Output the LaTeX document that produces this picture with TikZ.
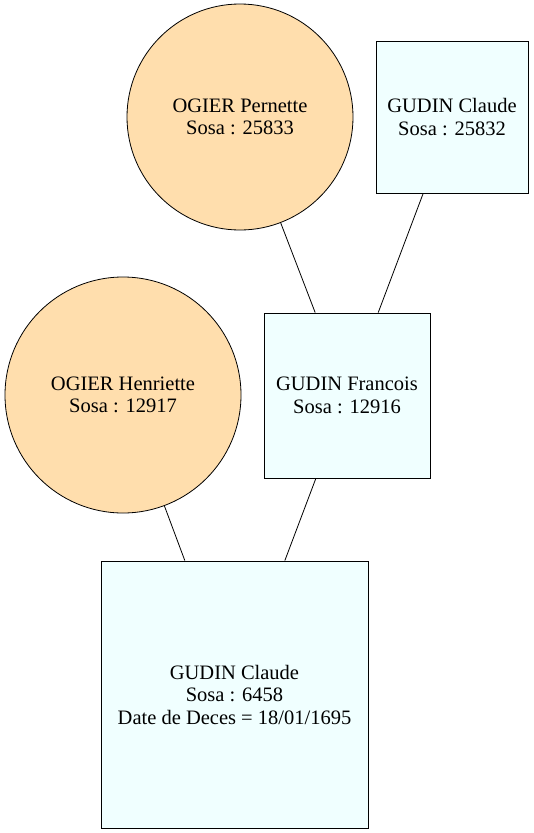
\documentclass[tikz,border=0pt]{standalone}
\usepackage{fontspec}
\setmainfont{Liberation Serif}
\definecolor{fem}{HTML}{FFDEAD}
\definecolor{masc}{HTML}{F0FFFF}
\tikzset{
  person/.style={draw=black, line width=0.8pt, inner sep=0pt, align=center,
    font=\fontsize{20.5}{22.5}\selectfont},
  femme/.style={person, circle, fill=fem},
  homme/.style={person, rectangle, fill=masc},
  link/.style={draw=black, line width=0.8pt}
}
\begin{document}
\begin{tikzpicture}[x=1pt,y=-1pt]
\useasboundingbox (0,0) rectangle (534,833);
\node[femme, minimum size=226pt] (pernette) at (240,117) {OGIER Pernette\\Sosa : 25833};
\node[homme, minimum width=152pt, minimum height=152pt] (claudeA) at (452,117) {GUDIN Claude\\Sosa : 25832};
\node[femme, minimum size=236pt] (henriette) at (123,395) {OGIER Henriette\\Sosa : 12917};
\node[homme, minimum width=166pt, minimum height=165pt] (francois) at (347,395.5) {GUDIN Francois\\Sosa : 12916};
\node[homme, minimum width=267pt, minimum height=267pt] (claudeB) at (234.5,694.5) {GUDIN Claude\\Sosa : 6458\\Date de Deces = 18/01/1695};
\draw[link] (pernette) -- (francois);
\draw[link] (claudeA) -- (francois);
\draw[link] (henriette) -- (claudeB);
\draw[link] (francois) -- (claudeB);
\end{tikzpicture}
\end{document}
